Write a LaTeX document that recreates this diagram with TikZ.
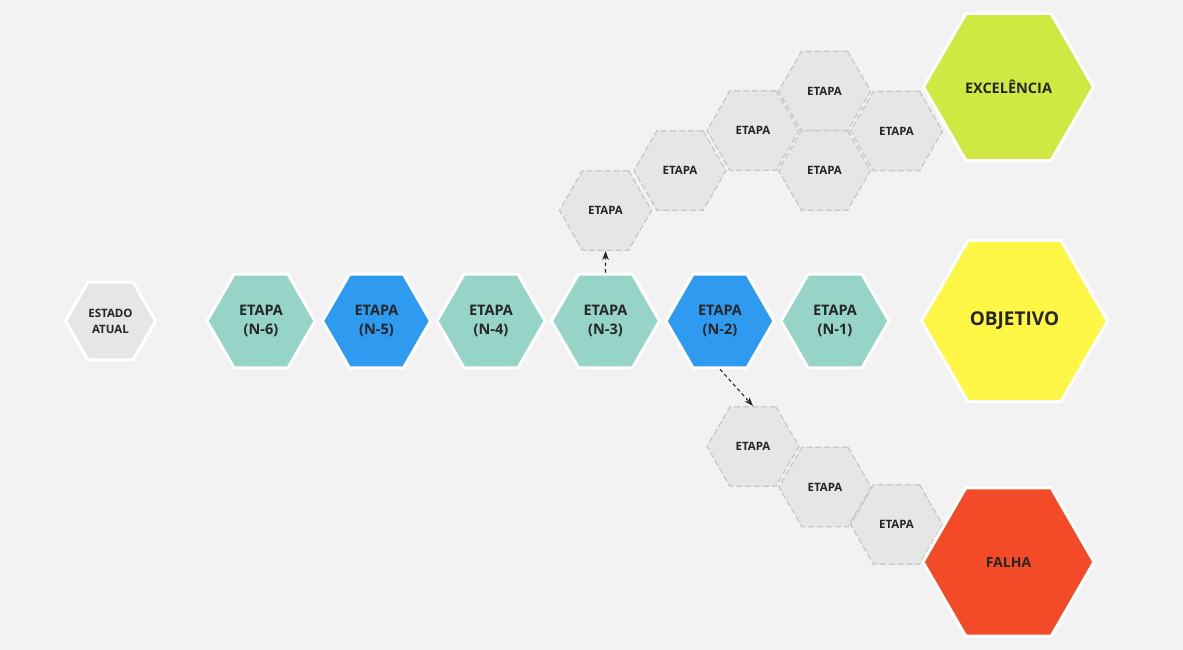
\documentclass[tikz,border=0pt]{standalone}
\usepackage{fontspec}
\setmainfont{Open Sans}
\usetikzlibrary{shapes.geometric}
\usetikzlibrary{arrows.meta}
\definecolor{bgcol}{HTML}{F2F2F2}
\definecolor{txtcol}{HTML}{262626}
\definecolor{greycol}{HTML}{E6E6E6}
\definecolor{dashcol}{HTML}{C8C8C8}
\definecolor{tealcol}{HTML}{96D4C7}
\definecolor{bluecol}{HTML}{2E9BF0}
\definecolor{yellowcol}{HTML}{FFF645}
\definecolor{limecol}{HTML}{CFE842}
\definecolor{redcol}{HTML}{F34A27}
\newcommand{\fs}[2]{\fontsize{#1}{#2}\selectfont}
\tikzstyle{hexa}=[regular polygon,regular polygon sides=6,inner sep=0pt,align=center,text=txtcol]
\tikzstyle{mainhex}=[hexa,draw=white,line width=3pt,minimum size=108pt,font={\bfseries\fs{14.5}{19.5}}]
\tikzstyle{greyhex}=[hexa,fill=greycol,draw=dashcol,line width=1.3pt,dash pattern=on 6pt off 3pt,minimum size=92pt,font={\bfseries\fs{11.5}{14}}]
\tikzstyle{goalhex}=[hexa,draw=white,line width=3pt,font={\bfseries\fs{14}{17}}]
\tikzstyle{arr}=[-{Stealth[length=9pt,width=6.5pt]},dash pattern=on 3.5pt off 3pt,line width=1.1pt,draw=txtcol]

\begin{document}
\begin{tikzpicture}[x=1pt,y=-1pt]
  \fill[bgcol] (0,0) rectangle (1183,650);
  \useasboundingbox (0,0) rectangle (1183,650);

  \node[greyhex] (up1) at (605.5,210.5) {ETAPA};
  \node[greyhex] (up2) at (680,170.5) {ETAPA};
  \node[greyhex] (up3) at (753,130.5) {ETAPA};
  \node[greyhex] (up4) at (824.5,91) {ETAPA};
  \node[greyhex] (up5) at (824.5,170.5) {ETAPA};
  \node[greyhex] (up6) at (896.5,131) {ETAPA};
  \node[greyhex] (low1) at (753,446.5) {ETAPA};
  \node[greyhex] (low2) at (825,487) {ETAPA};
  \node[greyhex] (low3) at (896.5,524.5) {ETAPA};

  \node[mainhex,fill=greycol,minimum size=90pt,font={\bfseries\fs{11.5}{16}}] (estado) at (110.5,321) {ESTADO\\ATUAL};
  \node[mainhex,fill=tealcol] (n6) at (261,321) {ETAPA\\(N-6)};
  \node[mainhex,fill=bluecol] (n5) at (376.5,321) {ETAPA\\(N-5)};
  \node[mainhex,fill=tealcol] (n4) at (491,321) {ETAPA\\(N-4)};
  \node[mainhex,fill=tealcol] (n3) at (605.5,321) {ETAPA\\(N-3)};
  \node[mainhex,fill=bluecol] (n2) at (720,321) {ETAPA\\(N-2)};
  \node[mainhex,fill=tealcol] (n1) at (835,321) {ETAPA\\(N-1)};

  \node[goalhex,fill=yellowcol,minimum size=186pt,font={\bfseries\fs{19}{22}}] (objetivo) at (1014.5,321) {OBJETIVO};
  \node[goalhex,fill=limecol,minimum size=170pt,font={\bfseries\fs{14.5}{17}}] (excel) at (1008.5,87) {EXCELÊNCIA};
  \node[goalhex,fill=redcol,minimum size=171pt] (falha) at (1008.5,562) {FALHA};

  \draw[arr] (n3.north) -- (up1.south);
  \draw[arr] (n2.south) -- (low1.north);
\end{tikzpicture}
\end{document}
